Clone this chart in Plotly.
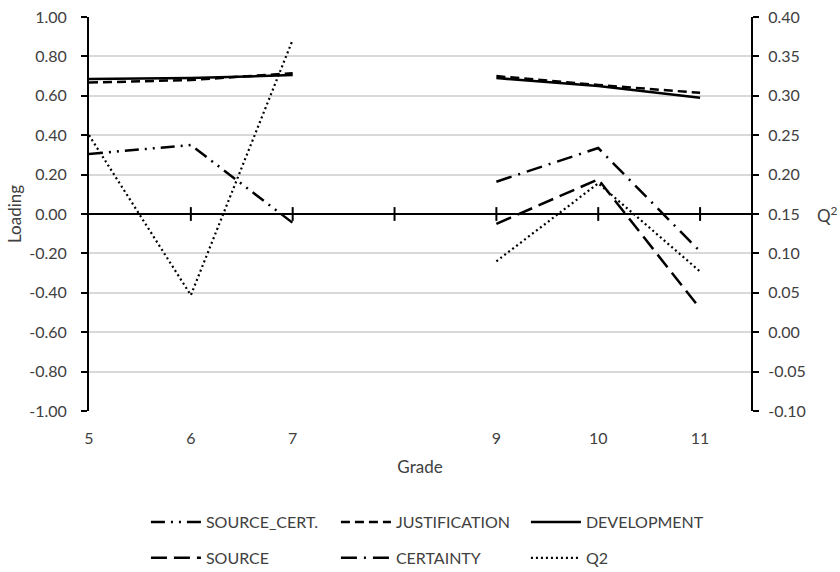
import plotly.graph_objects as go

grades = [5, 6, 7, 8, 9, 10, 11]
tick_labels = ["5", "6", "7", "", "9", "10", "11"]

source_cert = [0.305, 0.35, -0.045, None, None, None, None]
justification = [0.667, 0.68, 0.715, None, 0.70, 0.655, 0.615]
development = [0.685, 0.69, 0.705, None, 0.69, 0.65, 0.59]
source = [None, None, None, None, -0.05, 0.176, -0.48]
certainty = [None, None, None, None, 0.164, 0.335, -0.19]
q2 = [0.25, 0.047, 0.371, None, 0.09, 0.189, 0.077]

left_ticks = [-1.0, -0.8, -0.6, -0.4, -0.2, 0.0, 0.2, 0.4, 0.6, 0.8, 1.0]
right_ticks = [-0.10, -0.05, 0.0, 0.05, 0.10, 0.15, 0.20, 0.25, 0.30, 0.35, 0.40]

FONT = "Lato"
TXT = "#404040"

fig = go.Figure()

def add(name, y, dash, legend, yaxis="y", width=2.5):
    fig.add_trace(go.Scatter(
        x=grades, y=y, name=name, mode="lines", yaxis=yaxis,
        line=dict(color="black", width=width, dash=dash),
        connectgaps=False, legend=legend,
    ))

add("SOURCE_CERT.", source_cert, "14px,6px,2px,6px,2px,6px", "legend")
add("JUSTIFICATION", justification, "9px,5px", "legend")
add("DEVELOPMENT", development, "solid", "legend")
add("SOURCE", source, "16px,7px", "legend2")
add("CERTAINTY", certainty, "16px,7px,2px,7px", "legend2")
add("Q2", q2, "2px,3px", "legend2", yaxis="y2", width=2.2)

# tick marks crossing the zero line
shapes = []
for g in grades[1:]:
    shapes.append(dict(type="line", xref="x", yref="y", x0=g, x1=g,
                       y0=-0.035, y1=0.035, line=dict(color="black", width=2)))

leg_common = dict(
    orientation="h", x=0.086, xanchor="left", yanchor="middle",
    entrywidth=125, entrywidthmode="pixels", itemwidth=50,
    font=dict(size=16, color=TXT), bgcolor="rgba(0,0,0,0)",
    traceorder="normal",
)

fig.update_layout(
    width=840, height=572,
    margin=dict(l=89, r=89, t=17, b=161, autoexpand=False),
    paper_bgcolor="white", plot_bgcolor="white",
    font=dict(family=FONT, size=16, color=TXT),
    shapes=shapes,
    xaxis=dict(
        range=[5, 11.5], tickvals=grades, ticktext=tick_labels,
        showline=False, showgrid=False, zeroline=False, ticks="",
        ticklabelstandoff=16, automargin=False,
        title=dict(text="Grade", font=dict(size=17, color=TXT), standoff=15),
        tickfont=dict(size=16, color=TXT),
    ),
    yaxis=dict(
        range=[-1, 1], tickvals=left_ticks,
        ticktext=[f"{v:.2f}" for v in left_ticks],
        showline=True, linecolor="black", linewidth=2,
        ticks="outside", ticklen=6, tickcolor="black", tickwidth=1.5,
        ticklabelstandoff=11, automargin=False,
        showgrid=True, gridcolor="#d9d9d9", gridwidth=1.5,
        zeroline=True, zerolinecolor="black", zerolinewidth=2,
        title=dict(text="Loading", font=dict(size=17, color=TXT), standoff=3),
        tickfont=dict(size=16, color=TXT),
    ),
    yaxis2=dict(
        range=[-0.10, 0.40], tickvals=right_ticks,
        ticktext=[f"{v:.2f}" for v in right_ticks],
        overlaying="y", side="right",
        showline=True, linecolor="black", linewidth=2,
        ticks="outside", ticklen=6, tickcolor="black", tickwidth=1.5,
        ticklabelstandoff=6, automargin=False,
        showgrid=False, zeroline=False,
        tickfont=dict(size=16, color=TXT),
    ),
    legend=dict(y=-0.282, **leg_common),
    legend2=dict(y=-0.373, **leg_common),
    annotations=[dict(
        text="Q<sup>2</sup>", xref="paper", yref="paper", x=1.0, y=0.5,
        xanchor="left", yanchor="middle", xshift=64, showarrow=False,
        font=dict(size=17, color=TXT),
    )],
)

fig.write_html("out.html", config={"displayModeBar": False},
               post_script="document.body.style.margin='0';")
